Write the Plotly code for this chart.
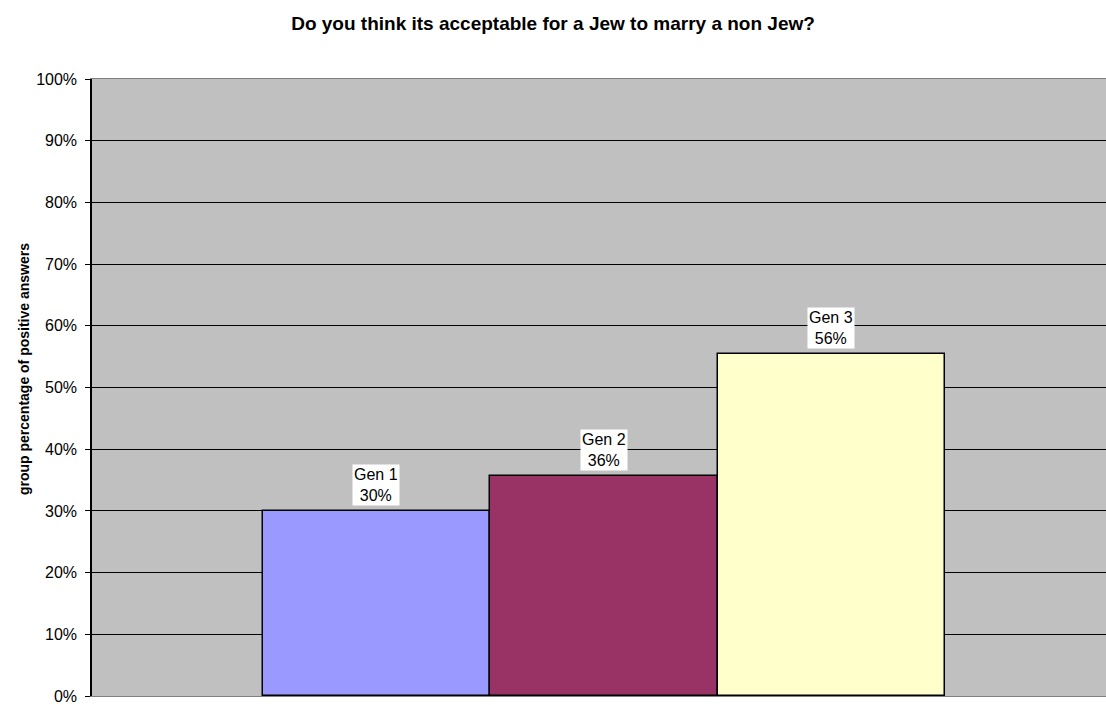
import plotly.graph_objects as go

# Survey results: share of positive answers per generation
generations = ["Gen 1", "Gen 2", "Gen 3"]
shares = [30.0, 35.7, 55.5]
label_texts = ["30%", "36%", "56%"]
bar_colors = ["#9999FF", "#993366", "#FFFFCC"]

y_ticks = list(range(0, 101, 10))
y_tick_labels = [f"{v}%" for v in y_ticks]

FONT = "Liberation Sans, Arial, sans-serif"

fig = go.Figure()
for i, (name, val, col) in enumerate(zip(generations, shares, bar_colors)):
    fig.add_trace(go.Bar(
        x=[i], y=[val], width=1.0, name=name,
        marker=dict(color=col, line=dict(color="#000000", width=1.5)),
        showlegend=False, hoverinfo="skip",
    ))
    fig.add_annotation(
        x=i, y=val, xref="x", yref="y",
        text=f"{name}<br>{label_texts[i]}",
        showarrow=False, yanchor="bottom", yshift=5,
        bgcolor="#FFFFFF", borderpad=1,
        font=dict(family=FONT, size=16, color="#000000"),
    )

# vertical axis caption
fig.add_annotation(
    xref="paper", yref="paper", x=-68 / 1014, y=(698 - 370) / 619,
    xanchor="center", yanchor="middle", textangle=-90, showarrow=False,
    text="<b>group percentage of positive answers</b>",
    font=dict(family=FONT, size=14, color="#000000"),
)

fig.update_layout(
    width=1106, height=705,
    margin=dict(l=92, r=0, t=79, b=7),
    paper_bgcolor="#FFFFFF",
    plot_bgcolor="#C0C0C0",
    bargap=0, barmode="overlay",
    title=dict(
        text="<b>Do you think its acceptable for a Jew to marry a non Jew?</b>",
        x=553 / 1106, xref="container", xanchor="center",
        y=1 - 23 / 705, yref="container", yanchor="middle",
        font=dict(family=FONT, size=19, color="#000000"),
    ),
    font=dict(family=FONT, size=16, color="#000000"),
)

fig.update_xaxes(
    range=[-1.2503, 3.207], showticklabels=False, ticks="",
    showgrid=False, zeroline=False,
    showline=True, linecolor="#808080", linewidth=1, mirror=True,
)
fig.update_yaxes(
    range=[0, 100], tickvals=y_ticks, ticktext=y_tick_labels,
    ticks="outside", ticklen=5, tickcolor="#000000", tickwidth=1,
    showgrid=True, gridcolor="#000000", gridwidth=1, zeroline=False,
    showline=True, linecolor="#000000", linewidth=1.5,
    ticklabeloverflow="allow", ticklabelstandoff=5,
    tickfont=dict(family=FONT, size=16, color="#000000"),
)

fig.write_html("out.html")
